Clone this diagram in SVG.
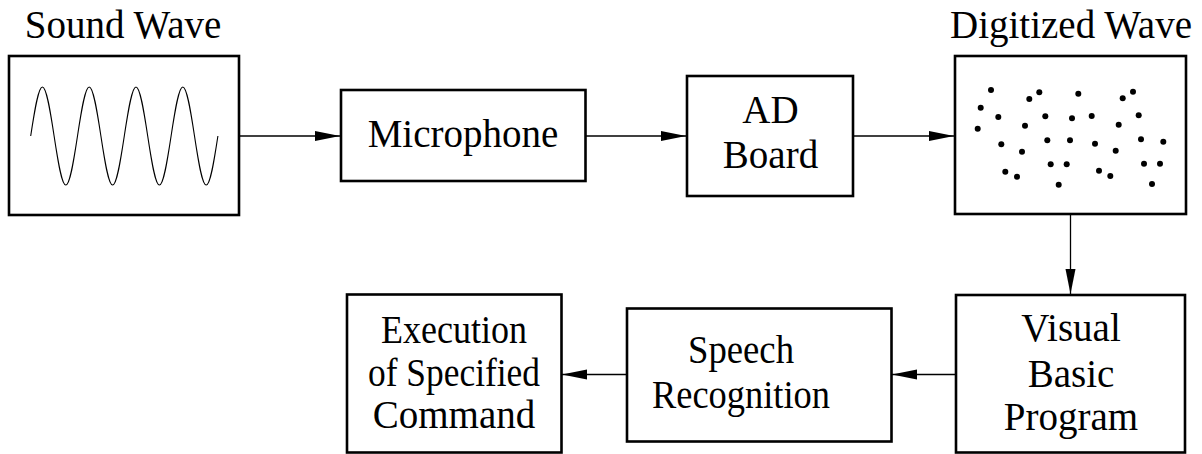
<svg xmlns="http://www.w3.org/2000/svg" width="1202" height="454" viewBox="0 0 1202 454">
<style>
.box{fill:#fff;stroke:#000;stroke-width:2.6}
.lbl{font-family:"Liberation Serif","Times New Roman",serif;font-size:39px;fill:#000;text-anchor:middle}
.conn{stroke:#000;stroke-width:1.3;fill:none;marker-end:url(#ah)}
.dot{fill:#000}
</style>
<defs>
<marker id="ah" markerUnits="userSpaceOnUse" markerWidth="26" markerHeight="12" refX="25" refY="5" orient="auto">
<path d="M0,0 L25,5 L0,10 z" fill="#000"/>
</marker>
</defs>
<rect width="1202" height="454" fill="#fff"/>
<g id="connectors">
<line class="conn" x1="239" y1="136" x2="340" y2="136"/>
<line class="conn" x1="586" y1="136" x2="686" y2="136"/>
<line class="conn" x1="853" y1="136" x2="954" y2="136"/>
<line class="conn" x1="1070.5" y1="215" x2="1070.5" y2="294"/>
<line class="conn" x1="955" y1="374.5" x2="892" y2="374.5"/>
<line class="conn" x1="627" y1="374.5" x2="562" y2="374.5"/>
</g>
<g id="sound-wave">
<text class="lbl" x="123" y="38">Sound Wave</text>
<rect class="box" x="9" y="56" width="230" height="159"/>
<path d="M30.7,136 c3.815,-25.1 7.466,-49 11.7,-49 c4.234,0 7.885,23.9 11.7,49 c3.815,25.1 7.466,49 11.7,49 c4.234,0 7.885,-23.9 11.7,-49 c3.815,-25.1 7.466,-49 11.7,-49 c4.234,0 7.885,23.9 11.7,49 c3.815,25.1 7.466,49 11.7,49 c4.234,0 7.885,-23.9 11.7,-49 c3.815,-25.1 7.466,-49 11.7,-49 c4.234,0 7.885,23.9 11.7,49 c3.815,25.1 7.466,49 11.7,49 c4.234,0 7.885,-23.9 11.7,-49 c3.815,-25.1 7.466,-49 11.7,-49 c4.234,0 7.885,23.9 11.7,49 c3.815,25.1 7.466,49 11.7,49 c4.234,0 7.885,-23.9 11.7,-49" fill="none" stroke="#000" stroke-width="1.1"/>
</g>
<g id="microphone">
<rect class="box" x="341" y="90" width="244.5" height="91"/>
<text class="lbl" x="463" y="147">Microphone</text>
</g>
<g id="ad-board">
<rect class="box" x="687" y="76" width="166" height="120"/>
<text class="lbl" x="770.5" y="123.3">AD</text>
<text class="lbl" x="770.5" y="168.3">Board</text>
</g>
<g id="digitized-wave">
<text class="lbl" x="1071" y="38">Digitized Wave</text>
<rect class="box" x="955" y="56" width="231" height="158"/>
<g class="dot">
<circle cx="991" cy="90" r="3"/><circle cx="980.7" cy="107.7" r="3"/><circle cx="977.7" cy="128.7" r="3"/><circle cx="998.3" cy="117" r="3"/>
<circle cx="1001.3" cy="144.3" r="3"/><circle cx="1005.3" cy="171.7" r="3"/><circle cx="1017" cy="176.7" r="3"/><circle cx="1022" cy="151.7" r="3"/>
<circle cx="1025" cy="125.7" r="3"/><circle cx="1029.3" cy="99" r="3"/><circle cx="1039.3" cy="92.3" r="3"/><circle cx="1045.3" cy="116.3" r="3"/>
<circle cx="1047.3" cy="140.3" r="3"/><circle cx="1050.7" cy="164.3" r="3"/><circle cx="1058.7" cy="184.7" r="3"/><circle cx="1066.7" cy="164.3" r="3"/>
<circle cx="1070" cy="140.3" r="3"/><circle cx="1072" cy="118.3" r="3"/><circle cx="1078.3" cy="93.7" r="3"/><circle cx="1091.7" cy="116" r="3"/>
<circle cx="1095" cy="143.7" r="3"/><circle cx="1099" cy="170.7" r="3"/><circle cx="1110.3" cy="176" r="3"/><circle cx="1115.7" cy="150.7" r="3"/>
<circle cx="1118.7" cy="124.7" r="3"/><circle cx="1122.7" cy="98.3" r="3"/><circle cx="1133" cy="91.7" r="3"/><circle cx="1138.7" cy="115.3" r="3"/>
<circle cx="1141" cy="139.3" r="3"/><circle cx="1144" cy="163.7" r="3"/><circle cx="1152" cy="184" r="3"/><circle cx="1160" cy="163.7" r="3"/>
<circle cx="1163.3" cy="141.7" r="3"/>
</g>
</g>
<g id="visual-basic">
<rect class="box" x="956" y="295" width="229" height="157.5"/>
<text class="lbl" x="1071" y="341">Visual</text>
<text class="lbl" x="1071" y="386.5">Basic</text>
<text class="lbl" x="1071" y="430">Program</text>
</g>
<g id="speech-recognition">
<rect class="box" x="627" y="308.5" width="264.5" height="133"/>
<text class="lbl" x="741" y="363.3" textLength="106" lengthAdjust="spacingAndGlyphs">Speech</text>
<text class="lbl" x="741" y="408.3" textLength="178" lengthAdjust="spacingAndGlyphs">Recognition</text>
</g>
<g id="execution">
<rect class="box" x="347" y="294.5" width="214.5" height="158"/>
<text class="lbl" x="454" y="343.3" textLength="146" lengthAdjust="spacingAndGlyphs">Execution</text>
<text class="lbl" x="454" y="385.7" textLength="172" lengthAdjust="spacingAndGlyphs">of Specified</text>
<text class="lbl" x="454" y="428.3">Command</text>
</g>
</svg>
